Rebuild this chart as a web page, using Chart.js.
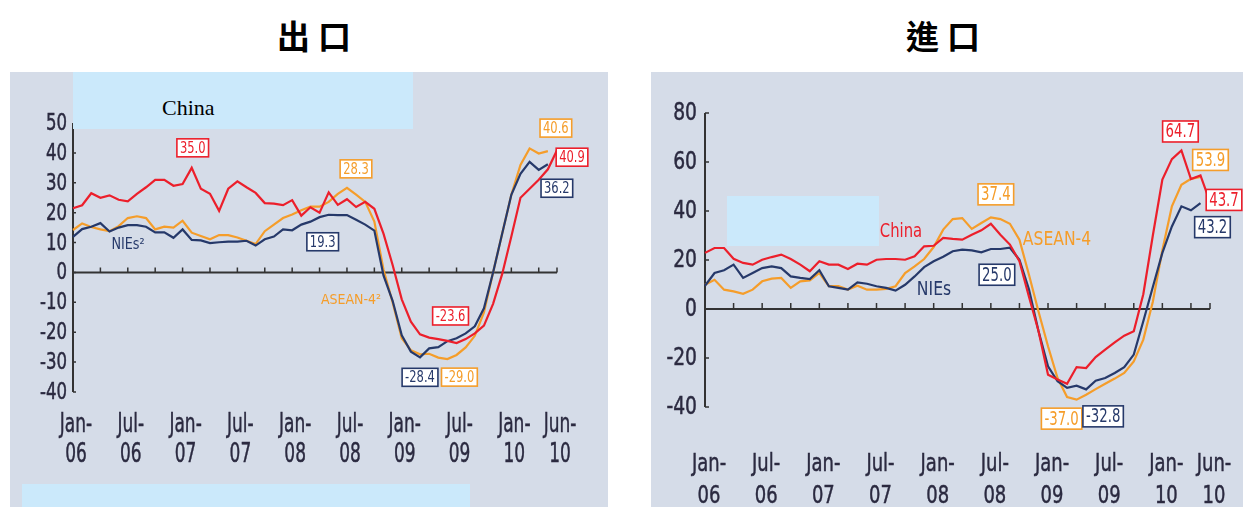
<!DOCTYPE html>
<html lang="zh-Hant">
<head>
<meta charset="utf-8">
<title>出口 / 進口</title>
<script src="https://cdn.jsdelivr.net/npm/chart.js@4.4.1/dist/chart.umd.min.js"></script>
<style>
  html, body { margin: 0; padding: 0; background: #fff; }
  body { width: 1243px; height: 507px; position: relative; overflow: hidden; }
  .title {
    position: absolute; top: 13px; width: 200px; padding-left: 8px; box-sizing: border-box;
    text-align: center; font-family: "Noto Sans CJK TC", "Noto Sans CJK SC", sans-serif;
    font-weight: 700; font-size: 33px; line-height: 44px; letter-spacing: 8px; color: #000;
  }
  .panel { position: absolute; top: 72px; height: 435px; background: #d5dce8; }
  .panel canvas { position: absolute; left: 0; top: 0; }
  .mask { position: absolute; background: #cbe9fb; }
  .mask span { position: absolute; font-family: "Liberation Serif", "DejaVu Serif", serif; font-size: 22px; color: #000; }
</style>
</head>
<body>
<div class="title" style="left:214px">出口</div>
<div class="title" style="left:843px">進口</div>

<div class="panel" style="left:10px; width:598px"><canvas id="exportChart" width="598" height="435"></canvas></div>
<div class="panel" style="left:651px; width:592px"><canvas id="importChart" width="592" height="435"></canvas></div>

<div class="mask" style="left:73px; top:72px; width:340px; height:57px"><span style="left:89px; top:23px">China</span></div>
<div class="mask" style="left:22px; top:484px; width:448px; height:23px"></div>
<div class="mask" style="left:727px; top:196px; width:152px; height:50px"></div>

<script>
// meses (ene-06 a jun-10)
const months = [
  'Jan-06','Feb-06','Mar-06','Apr-06','May-06','Jun-06','Jul-06','Aug-06','Sep-06','Oct-06','Nov-06','Dec-06',
  'Jan-07','Feb-07','Mar-07','Apr-07','May-07','Jun-07','Jul-07','Aug-07','Sep-07','Oct-07','Nov-07','Dec-07',
  'Jan-08','Feb-08','Mar-08','Apr-08','May-08','Jun-08','Jul-08','Aug-08','Sep-08','Oct-08','Nov-08','Dec-08',
  'Jan-09','Feb-09','Mar-09','Apr-09','May-09','Jun-09','Jul-09','Aug-09','Sep-09','Oct-09','Nov-09','Dec-09',
  'Jan-10','Feb-10','Mar-10','Apr-10','May-10','Jun-10'
];
const xTickLabels = ['Jan-06','Jul-06','Jan-07','Jul-07','Jan-08','Jul-08','Jan-09','Jul-09','Jan-10','Jun-10'];
const seriesNames = ['China', 'NIEs', 'ASEAN-4'];

// 出口
const exportChina = [21.5, 22.5, 26.5, 25.0, 25.8, 24.3, 23.8, 26.3, 28.5, 31.0, 31.0, 29.0, 29.6, 35.0, 28.0, 26.3, 20.6, 28.0,
  30.5, 28.5, 26.6, 23.2, 23.0, 22.5, 24.2, 19.0, 21.8, 20.0, 26.8, 22.6, 24.5, 21.9, 23.6, 21.3, 13.0, 2.5,
  -9.0, -16.5, -20.7, -21.8, -22.3, -22.9, -23.6, -22.3, -20.4, -17.8, -10.5, -0.5, 12.0, 25.0, 28.0, 31.0, 34.5, 40.9];
const exportNIEs = [11.9, 14.5, 15.3, 16.5, 13.7, 15.0, 15.8, 15.8, 15.3, 13.4, 13.4, 11.6, 14.4, 10.9, 10.7, 9.8, 10.1, 10.3,
  10.3, 10.6, 9.0, 11.1, 12.0, 14.4, 14.1, 16.0, 17.0, 18.5, 19.3, 19.2, 19.2, 17.6, 16.0, 14.0, -1.0, -9.5,
  -21.0, -26.5, -28.4, -25.4, -25.0, -23.0, -22.0, -20.4, -18.0, -12.0, 0.0, 13.0, 26.0, 33.0, 37.0, 34.3, 36.2, null];
const exportASEAN = [14.2, 16.4, 15.2, 14.4, 13.8, 15.5, 18.2, 18.8, 18.2, 14.4, 15.3, 15.0, 17.3, 13.3, 12.2, 11.1, 12.5, 12.5,
  11.7, 10.6, 9.5, 13.8, 16.0, 18.2, 19.4, 20.8, 22.0, 22.0, 23.6, 26.3, 28.3, 26.0, 23.6, 17.0, 1.0, -10.0,
  -22.0, -26.0, -27.4, -27.2, -28.5, -29.0, -27.6, -25.1, -21.2, -13.4, 0.0, 13.0, 26.0, 36.0, 41.5, 39.8, 40.6, null];

// 進口
const importChina = [22.9, 24.9, 24.9, 20.5, 18.8, 18.1, 20.1, 21.2, 22.2, 20.4, 18.1, 15.4, 19.5, 18.1, 18.1, 16.3, 18.5, 18.1,
  20.1, 20.4, 20.4, 20.1, 21.5, 25.6, 25.8, 29.0, 28.6, 28.3, 30.3, 32.1, 34.8, 30.3, 26.3, 19.5, 5.0, -9.0,
  -26.8, -28.8, -30.5, -23.7, -24.1, -19.6, -16.6, -13.6, -10.9, -9.1, 6.0, 30.0, 52.8, 61.2, 64.7, 53.0, 54.5, 43.7];
const importNIEs = [9.5, 14.7, 15.8, 18.1, 12.7, 14.7, 16.7, 17.4, 16.7, 13.3, 12.7, 12.2, 15.8, 9.3, 8.6, 7.9, 10.9, 10.3,
  9.3, 8.6, 7.5, 9.9, 13.3, 17.1, 19.5, 21.3, 23.6, 24.2, 23.9, 23.1, 24.5, 24.5, 25.0, 20.1, 8.0, -9.0,
  -23.4, -29.5, -32.2, -31.3, -32.8, -29.3, -28.2, -26.1, -23.7, -18.6, -5.0, 9.0, 22.9, 33.7, 41.9, 40.3, 43.2, null];
const importASEAN = [9.9, 11.9, 7.9, 7.2, 6.2, 7.9, 11.3, 12.4, 12.7, 8.6, 11.3, 11.7, 14.7, 9.3, 9.3, 7.9, 9.5, 7.9,
  7.9, 8.2, 9.3, 14.7, 17.4, 20.4, 25.3, 32.4, 36.7, 37.1, 32.7, 35.1, 37.4, 36.7, 34.8, 28.3, 14.0, -1.0,
  -15.2, -28.2, -35.9, -37.0, -35.0, -32.7, -30.5, -28.4, -26.1, -21.4, -12.5, 3.0, 24.0, 41.9, 50.7, 53.1, 53.9, null];

const colors = ['#ec1f2b', '#26396a', '#f59d2a'];
const axisColor = '#333';
const textColor = '#2b2a40';
const FONT = '"DejaVu Sans", Verdana, sans-serif';

// estilos de cada panel (posiciones en px del canvas)
const styles = {
  exportChart: {
    padTop: 51, padRight: 51, xHeight: 115, yWidth: 63,
    yFont: 23, ySx: 0.72, yGap: 6, xFont: 27, xSx: 0.63, xLine1: 33, xGap: 30, xShift: 3,
    boxFont: 16, boxSx: 0.72, boxH: 18, tickUp: 5, tickIn: 3,
    boxes: [
      { s: 0, i: 13, dx: 1, dy: -20 }, { s: 2, i: 30, dx: 9, dy: -19 }, { s: 1, i: 28, dx: -6, dy: 27 },
      { s: 2, i: 52, dx: 8, dy: -23 }, { s: 0, i: 53, dx: 15, dy: 7 }, { s: 1, i: 52, dx: 9, dy: 24 },
      { s: 0, i: 42, dx: -6, dy: -27 }, { s: 1, i: 38, dx: 0, dy: 20 }, { s: 2, i: 41, dx: 12, dy: 18 }
    ],
    names: [
      { s: 1, text: 'NIEs²', x: 118, y: 173, size: 16, sx: 0.8 },
      { s: 2, text: 'ASEAN-4²', x: 341, y: 228, size: 14, sx: 0.9 }
    ]
  },
  importChart: {
    padTop: 41, padRight: 33, xHeight: 100, yWidth: 54,
    yFont: 24, ySx: 0.78, yGap: 8, xFont: 25, xSx: 0.72, xLine1: 57, xGap: 32, xShift: 4,
    boxFont: 19, boxSx: 0.7, boxH: 21, tickUp: 6, tickIn: 4,
    boxes: [
      { s: 0, i: 50, dx: -1, dy: -19 }, { s: 2, i: 52, dx: 10, dy: -17 }, { s: 0, i: 53, dx: 14, dy: -2 },
      { s: 1, i: 52, dx: 12, dy: 24 }, { s: 2, i: 30, dx: 5, dy: -23 }, { s: 1, i: 32, dx: -13, dy: 27 },
      { s: 2, i: 39, dx: -15, dy: 19 }, { s: 1, i: 40, dx: 17, dy: 27 }
    ],
    names: [
      { s: 0, text: 'China', x: 250, y: 160, size: 19, sx: 0.78 },
      { s: 1, text: 'NIEs', x: 283, y: 218, size: 20, sx: 0.78 },
      { s: 2, text: 'ASEAN-4', x: 406, y: 168, size: 20, sx: 0.78 }
    ]
  }
};

// texto estrechado horizontalmente
function sText(ctx, str, x, y, size, sx, color, align, stroke) {
  ctx.save();
  ctx.translate(x, y);
  ctx.scale(sx, 1);
  ctx.font = size + 'px ' + FONT;
  ctx.fillStyle = color;
  ctx.textAlign = align || 'center';
  ctx.textBaseline = 'middle';
  ctx.fillText(str, 0, 0);
  if (stroke) {
    ctx.strokeStyle = color;
    ctx.lineWidth = stroke;
    ctx.strokeText(str, 0, 0);
  }
  ctx.restore();
}

const framePlugin = {
  id: 'frame',
  beforeDatasetsDraw(chart) {
    const st = styles[chart.canvas.id];
    const { ctx, chartArea: a, scales: { x, y } } = chart;
    const y0 = y.getPixelForValue(0);
    const xEnd = x.getPixelForValue(months.length - 1);
    ctx.save();
    ctx.strokeStyle = axisColor;
    ctx.lineWidth = 2;
    ctx.beginPath();
    ctx.moveTo(a.left, y.getPixelForValue(y.max));
    ctx.lineTo(a.left, y.getPixelForValue(y.min));
    ctx.moveTo(a.left, y0);
    ctx.lineTo(xEnd, y0);
    ctx.stroke();
    ctx.lineWidth = 1.5;
    ctx.beginPath();
    y.ticks.forEach(t => {
      const p = y.getPixelForValue(t.value);
      ctx.moveTo(a.left, p);
      ctx.lineTo(a.left + st.tickIn, p);
    });
    for (let i = 3; i < months.length; i += 3) {
      const p = x.getPixelForValue(i);
      ctx.moveTo(p, y0);
      ctx.lineTo(p, y0 - st.tickUp);
    }
    ctx.moveTo(xEnd, y0);
    ctx.lineTo(xEnd, y0 - st.tickUp);
    ctx.stroke();
    ctx.restore();

    // etiquetas del eje Y
    y.ticks.forEach(t => {
      sText(ctx, String(t.value), a.left - st.yGap, y.getPixelForValue(t.value) + 1, st.yFont, st.ySx, textColor, 'right', 0.5);
    });
    // etiquetas del eje X (dos líneas)
    xTickLabels.forEach(lbl => {
      const px = x.getPixelForValue(months.indexOf(lbl)) + st.xShift;
      const parts = lbl.split('-');
      sText(ctx, parts[0] + '-', px, a.bottom + st.xLine1, st.xFont, st.xSx, textColor, 'center', 0.5);
      sText(ctx, parts[1], px, a.bottom + st.xLine1 + st.xGap, st.xFont, st.xSx, textColor, 'center', 0.5);
    });
  },
  afterDatasetsDraw(chart) {
    const st = styles[chart.canvas.id];
    const { ctx, scales: { x, y } } = chart;
    st.boxes.forEach(b => {
      const v = chart.data.datasets[b.s].data[b.i];
      const str = v.toFixed(1);
      const cx = x.getPixelForValue(b.i) + b.dx;
      const cy = y.getPixelForValue(v) + b.dy;
      ctx.save();
      ctx.font = st.boxFont + 'px ' + FONT;
      const w = ctx.measureText(str).width * st.boxSx + 6;
      ctx.fillStyle = '#fff';
      ctx.fillRect(cx - w / 2, cy - st.boxH / 2, w, st.boxH);
      ctx.strokeStyle = colors[b.s];
      ctx.lineWidth = 1.6;
      ctx.strokeRect(cx - w / 2, cy - st.boxH / 2, w, st.boxH);
      ctx.restore();
      sText(ctx, str, cx, cy + 1, st.boxFont, st.boxSx, colors[b.s]);
    });
    st.names.forEach(n => sText(ctx, n.text, n.x, n.y, n.size, n.sx, colors[n.s]));
  }
};

function makeChart(id, series, yMin, yMax, yStep) {
  const st = styles[id];
  return new Chart(document.getElementById(id), {
    type: 'line',
    data: {
      labels: months,
      datasets: series.map((d, k) => ({
        label: seriesNames[k],
        data: d,
        borderColor: colors[k],
        borderWidth: 2.2,
        pointRadius: 0,
        fill: false,
        tension: 0
      }))
    },
    options: {
      responsive: false,
      animation: false,
      layout: { padding: { top: st.padTop, right: st.padRight, bottom: 0, left: 0 } },
      plugins: { legend: { display: false }, tooltip: { enabled: false } },
      scales: {
        x: {
          grid: { display: false, drawTicks: false },
          border: { display: false },
          ticks: { display: false },
          afterFit: s => { s.height = st.xHeight; }
        },
        y: {
          min: yMin, max: yMax,
          ticks: { display: false, stepSize: yStep },
          grid: { display: false, drawTicks: false },
          border: { display: false },
          afterFit: s => { s.width = st.yWidth; }
        }
      }
    },
    plugins: [framePlugin]
  });
}

makeChart('exportChart', [exportChina, exportNIEs, exportASEAN], -40, 50, 10);
makeChart('importChart', [importChina, importNIEs, importASEAN], -40, 80, 20);
</script>
</body>
</html>
